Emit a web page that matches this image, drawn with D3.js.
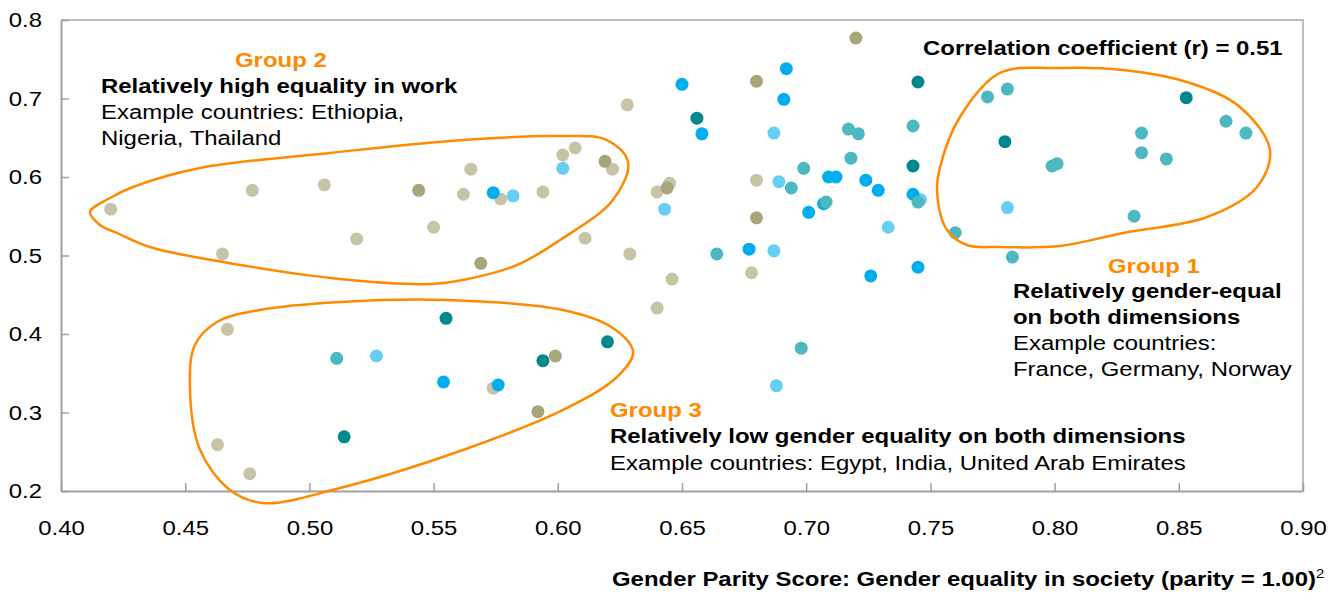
<!DOCTYPE html>
<html>
  <head>
    <meta charset="utf-8">
    <title>Gender equality in work vs society</title>
    <script src="https://d3js.org/d3.v7.min.js"></script>
    <style>
      body { margin: 0; background: #fff; }
      text { font-family: "Liberation Sans", Arial, sans-serif; }
      .dot { stroke: none; }
      .loop { fill: none; stroke: #ff8a00; stroke-width: 2.5; }
    </style>
  </head>
  <body>
    <svg width="1344" height="593"></svg>
    <script>
      // data points [x = society score, y = work score], one array per colour
      var lightKhaki = [[0.420,0.559],[0.477,0.583],[0.506,0.590],[0.628,0.692],[0.602,0.628],[0.607,0.637],
        [0.622,0.610],[0.565,0.610],[0.562,0.578],[0.577,0.572],[0.594,0.581],[0.550,0.536],[0.519,0.521],
        [0.611,0.522],[0.640,0.581],[0.645,0.592],[0.629,0.502],[0.465,0.502],[0.646,0.470],[0.640,0.433],
        [0.680,0.596],[0.678,0.478],[0.467,0.406],[0.463,0.259],[0.476,0.222],[0.574,0.331]];
      var darkKhaki = [[0.619,0.620],[0.544,0.583],[0.569,0.490],[0.644,0.586],[0.720,0.777],[0.680,0.722],
        [0.680,0.548],[0.599,0.372],[0.592,0.301]];
      var lightBlue = [[0.602,0.611],[0.582,0.576],[0.643,0.559],[0.687,0.656],[0.689,0.594],[0.746,0.571],
        [0.733,0.536],[0.687,0.506],[0.688,0.334],[0.781,0.561],[0.527,0.372]];
      var brightBlue = [[0.650,0.718],[0.692,0.738],[0.691,0.699],[0.658,0.655],[0.709,0.600],[0.712,0.600],
        [0.724,0.596],[0.729,0.583],[0.743,0.578],[0.707,0.566],[0.701,0.555],[0.677,0.508],[0.726,0.474],
        [0.745,0.485],[0.574,0.580],[0.554,0.339],[0.576,0.335]];
      var midTeal = [[0.717,0.661],[0.721,0.655],[0.743,0.665],[0.718,0.624],[0.699,0.611],[0.694,0.586],
        [0.745,0.568],[0.708,0.568],[0.664,0.502],[0.698,0.382],[0.760,0.529],[0.773,0.702],[0.781,0.712],
        [0.799,0.614],[0.801,0.617],[0.835,0.656],[0.835,0.631],[0.845,0.623],[0.832,0.550],[0.869,0.671],
        [0.877,0.656],[0.783,0.498],[0.511,0.369]];
      var darkTeal = [[0.656,0.675],[0.745,0.721],[0.743,0.614],[0.780,0.645],[0.853,0.701],[0.555,0.420],
        [0.620,0.390],[0.594,0.366],[0.514,0.269]];

      var xTicks = [0.40,0.45,0.50,0.55,0.60,0.65,0.70,0.75,0.80,0.85,0.90];
      var yTicks = [0.2,0.3,0.4,0.5,0.6,0.7,0.8];

      // hand-drawn group outlines (data units)
      var group1Loop = [[0.7780,0.7325],[0.7619,0.6764],[0.7539,0.6127],[0.7527,0.5796],[0.7567,0.5325],
        [0.7647,0.5134],[0.7780,0.5108],[0.8022,0.5121],[0.8275,0.5287],[0.8614,0.5490],[0.8815,0.5873],
        [0.8867,0.6344],[0.8746,0.6892],[0.8545,0.7197],[0.8275,0.7363],[0.8010,0.7389]];
      var group2Loop = [[0.4117,0.5554],[0.4197,0.5732],[0.4290,0.5873],[0.4560,0.6115],[0.5083,0.6306],
        [0.5566,0.6459],[0.5997,0.6522],[0.6198,0.6471],[0.6283,0.6191],[0.6222,0.5707],[0.6009,0.5197],
        [0.5836,0.4879],[0.5618,0.4688],[0.5486,0.4637],[0.5123,0.4701],[0.4652,0.4917],[0.4358,0.5108],
        [0.4225,0.5287],[0.4157,0.5389]];
      var group3Loop = [[0.4628,0.4153],[0.4801,0.4306],[0.5123,0.4408],[0.5554,0.4433],[0.6021,0.4306],
        [0.6222,0.4076],[0.6303,0.3771],[0.6238,0.3452],[0.6021,0.3032],[0.5618,0.2522],[0.5123,0.2038],
        [0.4813,0.1847],[0.4680,0.2013],[0.4560,0.2522],[0.4519,0.3325],[0.4539,0.3860]];

      var series = [
        {data: lightKhaki, color: "#c7c3a6"},
        {data: darkKhaki, color: "#a8a57b"},
        {data: lightBlue, color: "#66cdf5"},
        {data: brightBlue, color: "#00adef"},
        {data: midTeal, color: "#4db8c1"},
        {data: darkTeal, color: "#00888e"}
      ];

      var SX = 1.14; // text in the original is slightly stretched sideways
      var margin = {top: 20, right: 41, bottom: 102, left: 61},
          width = 1344 - margin.left - margin.right,
          height = 593 - margin.top - margin.bottom;

      var svg = d3.select("svg")
        .append("g")
          .attr("transform", "translate(" + margin.left + "," + margin.top + ")");

      var x = d3.scaleLinear().domain([0.40, 0.90]).range([0, width]);
      var y = d3.scaleLinear().domain([0.2, 0.8]).range([height, 0]);

      // frame top + right
      svg.append("path")
          .attr("d", "M0,0H" + width + "V" + height)
          .attr("fill", "none")
          .attr("stroke", "#a6a6a6")
          .attr("stroke-width", 1.5);

      var xAxis = svg.append("g")
          .attr("transform", "translate(0," + height + ")")
          .call(d3.axisBottom(x).tickValues(xTicks).tickFormat(d3.format(".2f"))
            .tickSize(-8).tickSizeOuter(0).tickPadding(29));
      var yAxis = svg.append("g")
          .call(d3.axisLeft(y).tickValues(yTicks).tickFormat(d3.format(".1f"))
            .tickSize(-8).tickSizeOuter(0).tickPadding(17));

      [xAxis, yAxis].forEach(function(ax) {
        ax.select(".domain").attr("stroke", "#a0a0a0").attr("stroke-width", 2);
        ax.selectAll(".tick line").attr("stroke", "#a0a0a0").attr("stroke-width", 1.5);
        ax.selectAll(".tick text")
          .attr("fill", "#000")
          .style("font-family", "'Liberation Sans', Arial, sans-serif")
          .style("font-size", "21px")
          .attr("transform", "scale(" + SX + ",1)");
      });
      yAxis.selectAll(".tick text").attr("x", -19 / SX);

      // dots
      series.forEach(function(s) {
        svg.append("g").selectAll("circle")
          .data(s.data)
          .enter().append("circle")
            .attr("class", "dot")
            .attr("cx", function(d) { return x(d[0]); })
            .attr("cy", function(d) { return y(d[1]); })
            .attr("r", 6.5)
            .attr("fill", s.color);
      });

      // group outlines
      var loopLine = d3.line()
          .x(function(d) { return x(d[0]); })
          .y(function(d) { return y(d[1]); })
          .curve(d3.curveCatmullRomClosed.alpha(0.5));
      [group1Loop, group2Loop, group3Loop].forEach(function(l) {
        svg.append("path").attr("class", "loop").attr("d", loopLine(l));
      });

      // annotations (page coordinates)
      var page = d3.select("svg");
      function note(px, py, str, weight, fill) {
        page.append("text")
          .attr("transform", "translate(" + px + "," + py + ") scale(" + SX + ",1)")
          .style("font-size", "21px")
          .style("font-weight", weight || "normal")
          .attr("fill", fill || "#000")
          .text(str);
      }
      var orange = "#ff8a00";
      note(235, 67, "Group 2", "bold", orange);
      note(101, 93, "Relatively high equality in work", "bold");
      note(101, 119, "Example countries: Ethiopia,");
      note(101, 145, "Nigeria, Thailand");

      note(923, 55, "Correlation coefficient (r) = 0.51", "bold");

      note(1108, 273, "Group 1", "bold", orange);
      note(1013, 298, "Relatively gender-equal", "bold");
      note(1013, 324, "on both dimensions", "bold");
      note(1013, 350, "Example countries:");
      note(1013, 376, "France, Germany, Norway");

      note(610, 417, "Group 3", "bold", orange);
      note(610, 443, "Relatively low gender equality on both dimensions", "bold");
      note(610, 470, "Example countries: Egypt, India, United Arab Emirates");

      // x axis title with superscript
      var title = page.append("text")
          .attr("transform", "translate(612,586) scale(" + SX + ",1)")
          .style("font-size", "21px")
          .style("font-weight", "bold")
          .attr("fill", "#000");
      title.append("tspan").text("Gender Parity Score: Gender equality in society (parity = 1.00)");
      title.append("tspan")
          .attr("dy", -8)
          .style("font-size", "13px")
          .style("font-weight", "normal")
          .text("2");
    </script>
  </body>
</html>
